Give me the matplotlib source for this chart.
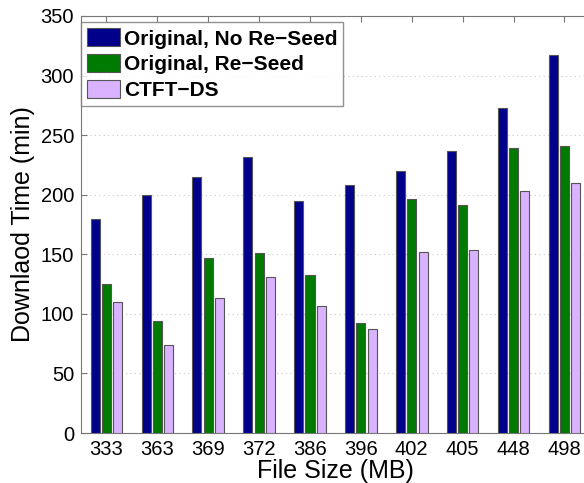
import matplotlib
matplotlib.use("Agg")
import matplotlib.pyplot as plt
import numpy as np

plt.rcParams['font.family'] = ['Liberation Sans', 'DejaVu Sans']

file_sizes = ['333', '363', '369', '372', '386', '396', '402', '405', '448', '498']
no_reseed = [180, 200, 215, 232, 195, 208, 220, 237, 273, 317]
reseed = [125, 94, 147, 151, 133, 92, 196, 191, 239, 241]
ctft_ds = [110, 74, 113, 131, 107, 87, 152, 154, 203, 210]
series_names = ['Original, No Re\u2212Seed', 'Original, Re\u2212Seed', 'CTFT\u2212DS']
colors = ['#00008B', '#007A00', '#D9B3FF']

fig = plt.figure(figsize=(5.84, 4.83), dpi=100)
ax = fig.add_axes([0.1387, 0.1035, 0.8713, 0.8634])

x = np.arange(1, len(file_sizes) + 1)
off = 0.222
w = 0.178
for i, (vals, c, n) in enumerate(zip([no_reseed, reseed, ctft_ds], colors, series_names)):
    ax.bar(x + (i - 1) * off, vals, width=w, color=c, edgecolor='#555555', linewidth=0.8, label=n, zorder=3)

ax.set_xlim(0.5, 10.5)
ax.set_ylim(0, 350)
ax.set_yticks(range(0, 351, 50))
ax.set_xticks(x)
ax.set_xticklabels(file_sizes)
ax.yaxis.grid(True, linestyle=(0, (1, 3)), color='#C8C8C8', linewidth=0.8, zorder=0)
ax.set_axisbelow(True)
ax.tick_params(axis='both', direction='in', labelsize=14.5, length=4, color='#777777', top=True, right=True, pad=5)
for s in ax.spines.values():
    s.set_color('#777777')
ax.set_xlabel('File Size (MB)', fontsize=18, labelpad=0)
ax.set_ylabel('Downlaod Time (min)', fontsize=18, labelpad=4)

leg = ax.legend(loc='upper left', bbox_to_anchor=(0.0, 0.985), prop={'weight': 'bold', 'size': 15},
                fancybox=False, edgecolor='#777777', handlelength=1.55, handleheight=0.95,
                borderaxespad=0.0, labelspacing=0.27, handletextpad=0.2, borderpad=0.3)
leg.get_frame().set_linewidth(1.0)

fig.savefig('out.png', dpi=100)
